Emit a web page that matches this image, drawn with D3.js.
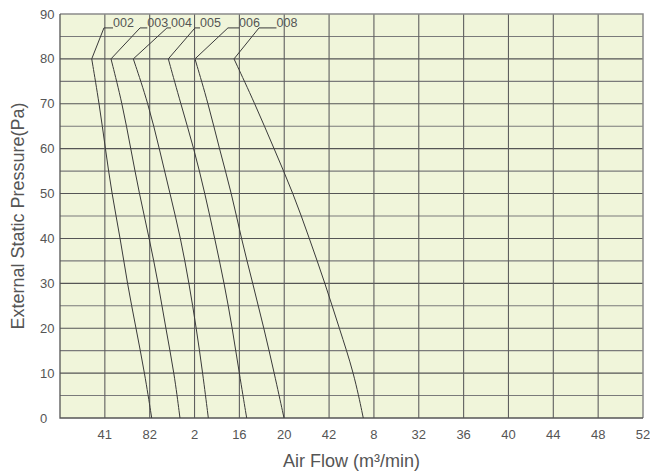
<!DOCTYPE html>
<html>
<head>
<meta charset="utf-8">
<script src="https://cdn.jsdelivr.net/npm/d3@7"></script>
<style>
  body { margin: 0; background: #fff; }
  svg text { font-family: "Liberation Sans", Arial, sans-serif; fill: #555; }
</style>
</head>
<body>
<div id="chart"></div>
<script>
// pressure levels (Pa) where the curves were read
var pressure = [80, 70, 60, 50, 40, 30, 20, 10, 0];

// air flow (m3/min) per model at each pressure level
var flow002 = [2.83, 3.5, 4.05, 4.62, 5.38, 6.0, 6.78, 7.55, 8.18];
var flow003 = [4.55, 5.56, 6.31, 7.07, 7.96, 8.77, 9.43, 10.19, 10.7];
var flow004 = [6.54, 7.88, 8.86, 9.81, 10.77, 11.51, 12.16, 12.73, 13.23];
var flow005 = [9.66, 10.77, 11.95, 12.93, 13.8, 14.65, 15.37, 15.99, 16.65];
var flow006 = [12.04, 13.23, 14.21, 15.31, 16.17, 17.19, 18.19, 19.11, 19.98];
var flow008 = [15.52, 17.39, 19.09, 20.81, 22.24, 23.64, 24.91, 26.22, 27.05];

var models = ["002", "003", "004", "005", "006", "008"];
var series = [flow002, flow003, flow004, flow005, flow006, flow008];

// leader lines for the labels
var leaderTop = [3.92, 7.14, 9.54, 12.04, 14.98, 17.75];
var labelStart = [4.73, 7.79, 9.9, 12.49, 15.97, 19.31];
var leaderPressure = 86.9;

var xTicks = [4, 8, 12, 16, 20, 24, 28, 32, 36, 40, 44, 48, 52];
var xTickLabels = ["41", "82", "2", "16", "20", "42", "8", "32", "36", "40", "44", "48", "52"];
var yTicks = [0, 10, 20, 30, 40, 50, 60, 70, 80, 90];
var yGrid = d3.range(5, 90, 5);

var W = 650, H = 474,
    pl = 60, pr = 643, pt = 14, pb = 418;

var svg = d3.select("#chart").append("svg")
    .attr("width", W)
    .attr("height", H);

var x = d3.scaleLinear().domain([0, 52]).range([pl, pr]);
var y = d3.scaleLinear().domain([0, 90]).range([pb, pt]);

svg.append("rect")
    .attr("x", pl).attr("y", pt)
    .attr("width", pr - pl).attr("height", pb - pt)
    .attr("fill", "#f0f5da");

// grid
svg.append("g").selectAll("line")
    .data(yGrid)
    .enter().append("line")
    .attr("x1", pl).attr("x2", pr)
    .attr("y1", function (d) { return y(d); })
    .attr("y2", function (d) { return y(d); })
    .attr("stroke", function (d) { return d % 10 ? "#7a7a7a" : "#555"; })
    .attr("stroke-width", 1.1);

svg.append("g").selectAll("line")
    .data(xTicks.slice(0, -1))
    .enter().append("line")
    .attr("x1", function (d) { return x(d); })
    .attr("x2", function (d) { return x(d); })
    .attr("y1", pt).attr("y2", pb)
    .attr("stroke", "#5f5f5f")
    .attr("stroke-width", 1.1);

// frame
svg.append("path")
    .attr("d", "M" + pl + "," + pt + "H" + pr + "V" + pb)
    .attr("fill", "none")
    .attr("stroke", "#8a8a8a")
    .attr("stroke-width", 1.5);
svg.append("path")
    .attr("d", "M" + pl + "," + pt + "V" + pb + "H" + pr)
    .attr("fill", "none")
    .attr("stroke", "#555")
    .attr("stroke-width", 1.3);

// curves
var line = d3.line()
    .x(function (d) { return x(d[0]); })
    .y(function (d) { return y(d[1]); })
    .curve(d3.curveBasis);

var straight = d3.line()
    .x(function (d) { return x(d[0]); })
    .y(function (d) { return y(d[1]); });

series.forEach(function (s, i) {
    var pts = s.map(function (v, j) { return [v, pressure[j]]; });
    svg.append("path")
        .attr("d", line(pts))
        .attr("fill", "none")
        .attr("stroke", "#3a3a3a")
        .attr("stroke-width", 1);

    svg.append("path")
        .attr("d", straight([[labelStart[i], leaderPressure], [leaderTop[i], leaderPressure], [s[0], pressure[0]]]))
        .attr("fill", "none")
        .attr("stroke", "#3a3a3a")
        .attr("stroke-width", 1);

    svg.append("text")
        .attr("x", x(labelStart[i]))
        .attr("y", y(leaderPressure) - 1)
        .attr("font-size", 12.5)
        .text(models[i]);
});

// axis labels
svg.append("g").selectAll("text")
    .data(yTicks)
    .enter().append("text")
    .attr("x", 40)
    .attr("y", function (d) { return y(d); })
    .attr("dy", "0.35em")
    .attr("font-size", 13)
    .text(function (d) { return d; });

svg.append("g").selectAll("text")
    .data(xTicks)
    .enter().append("text")
    .attr("x", function (d) { return x(d); })
    .attr("y", 439)
    .attr("text-anchor", "middle")
    .attr("font-size", 13)
    .text(function (d, i) { return xTickLabels[i]; });

svg.append("text")
    .attr("x", (pl + pr) / 2)
    .attr("y", 467)
    .attr("text-anchor", "middle")
    .attr("font-size", 18)
    .text("Air Flow (m\u00b3/min)");

svg.append("text")
    .attr("transform", "translate(24," + ((pt + pb) / 2) + ") rotate(-90)")
    .attr("text-anchor", "middle")
    .attr("font-size", 18)
    .text("External Static Pressure(Pa)");
</script>
</body>
</html>
